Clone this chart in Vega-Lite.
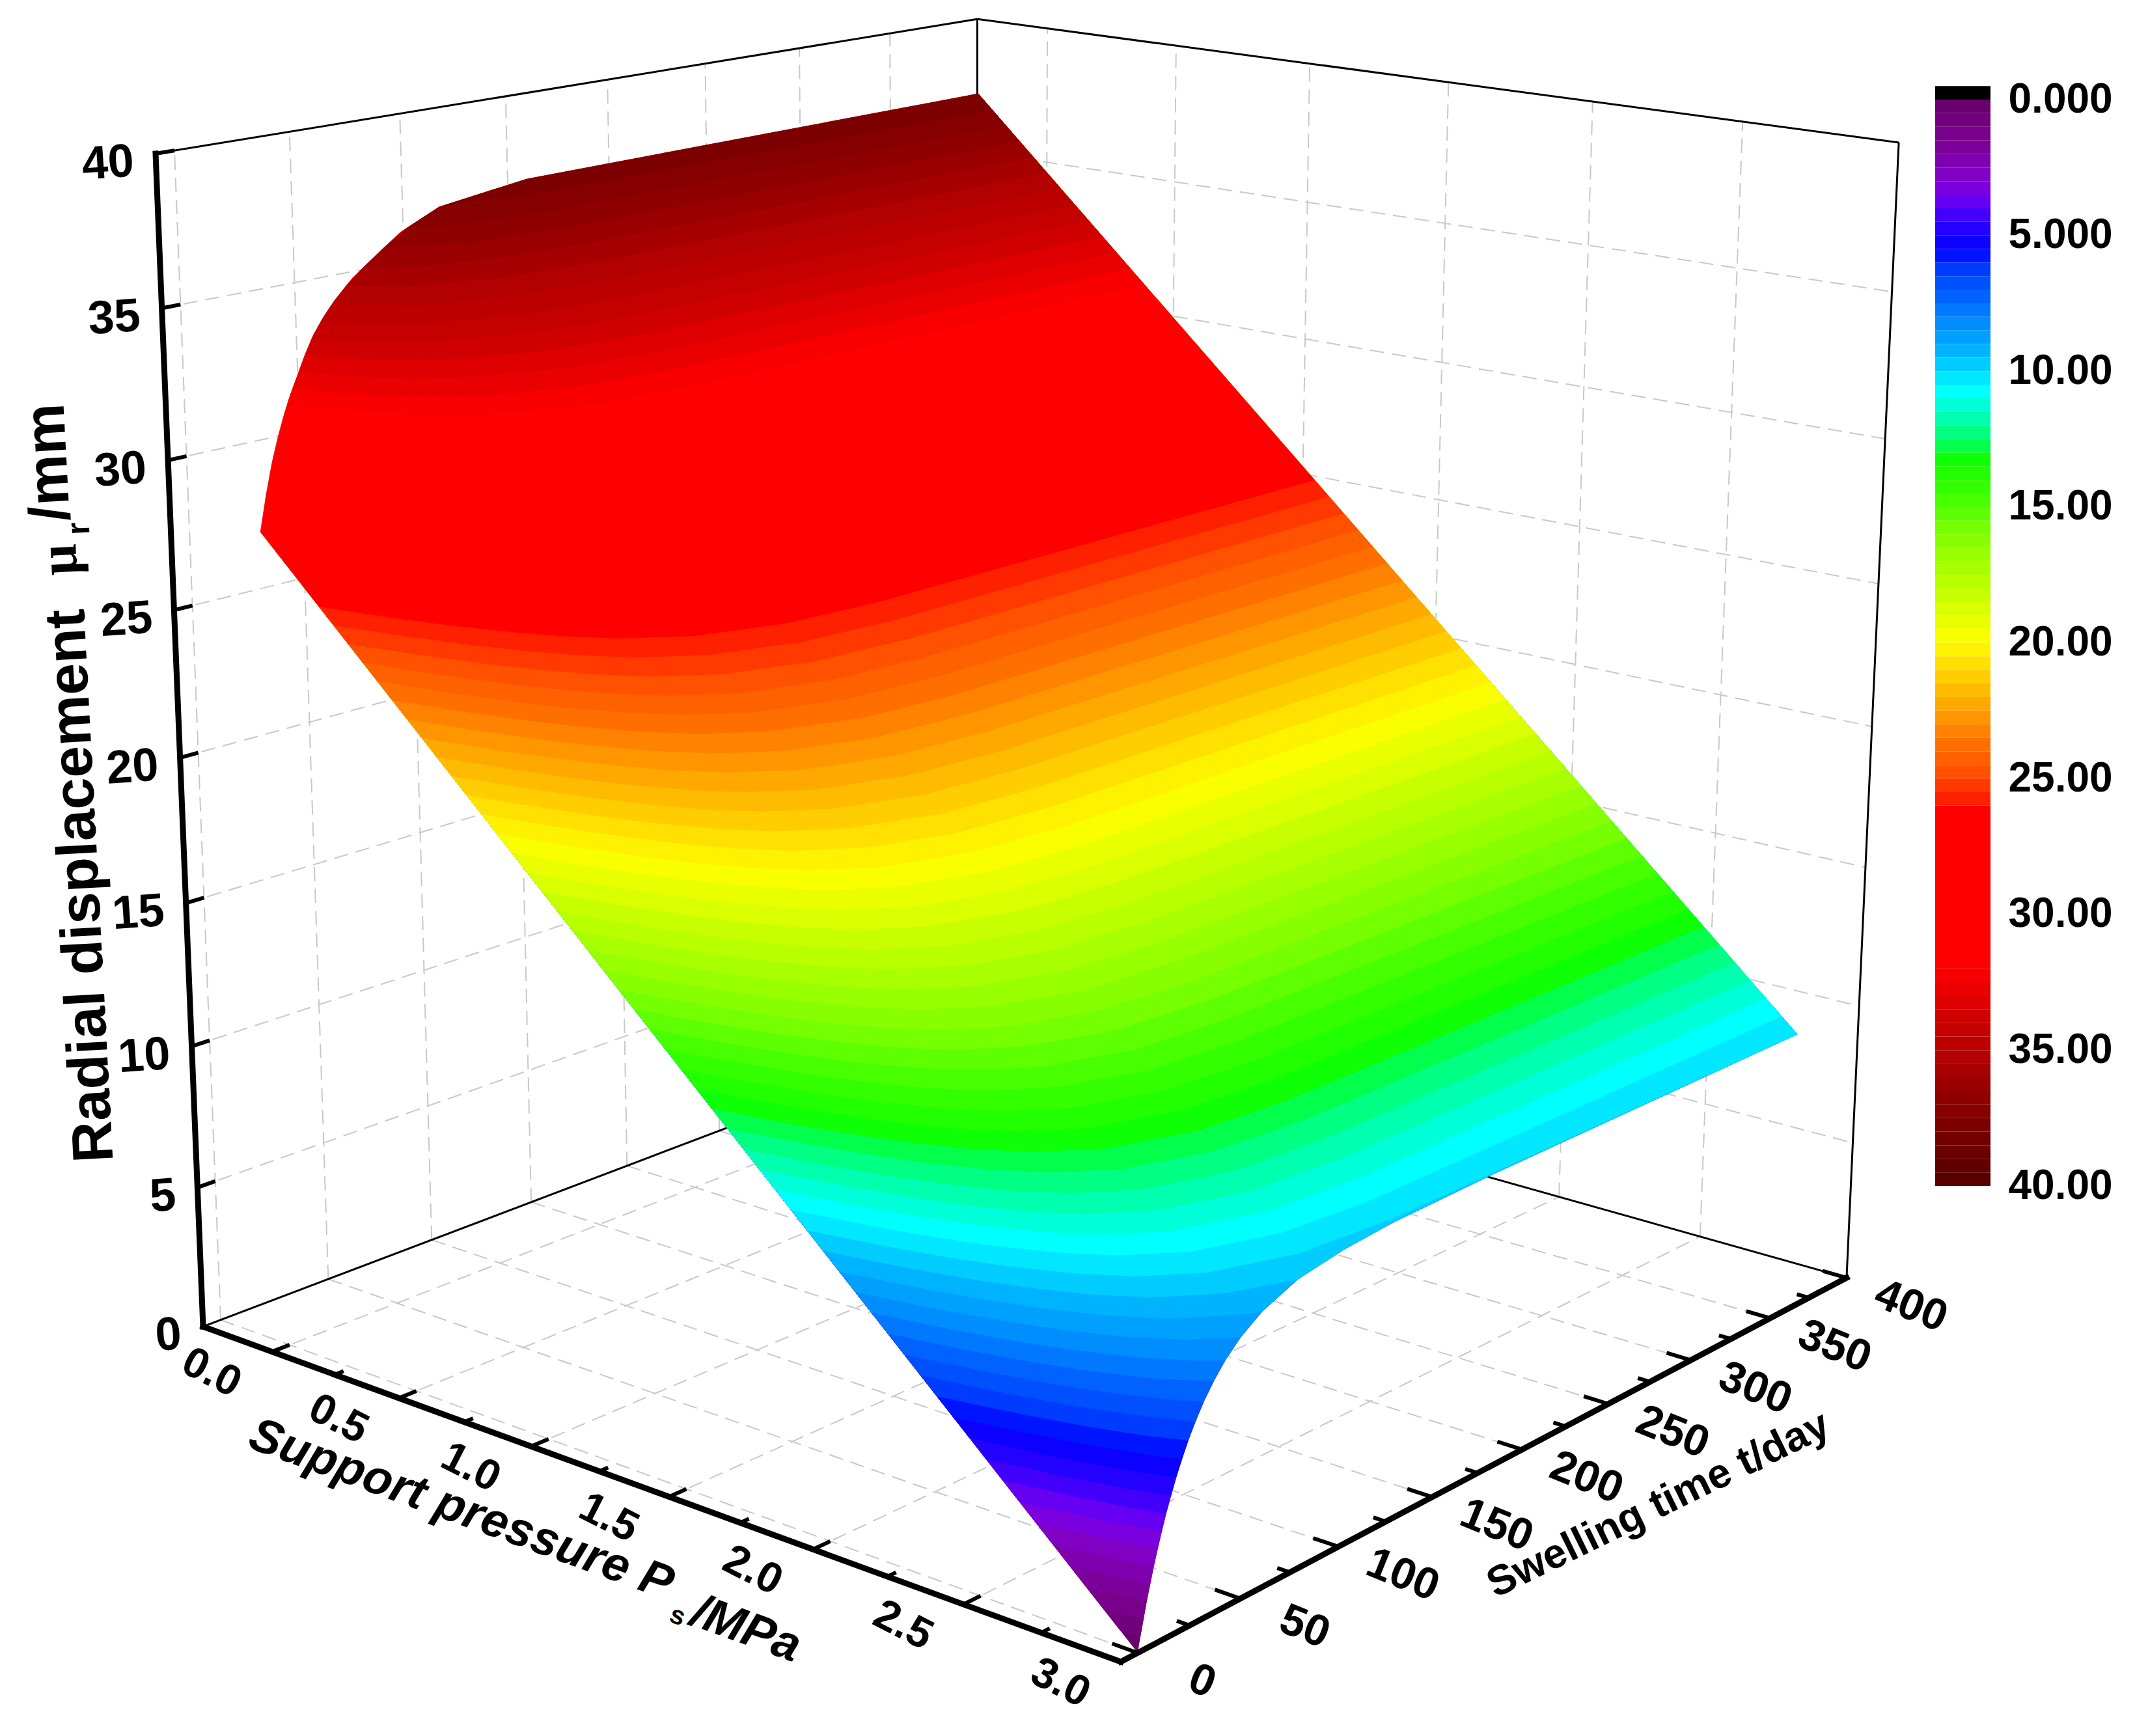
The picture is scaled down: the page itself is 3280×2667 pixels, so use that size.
{"$schema":"https://vega.github.io/schema/vega-lite/v6.json","width":3280,"height":2667,"padding":0,"autosize":{"type":"none"},"background":"white","config":{"view":{"stroke":null}},"resolve":{"scale":{"x":"independent","y":"independent"}},"layer":[{"data":{"values":[
{"g":"g","p":0,"t":-8,"u":0,"p2":0,"t2":400,"u2":0},{"g":"g","p":0.5,"t":-8,"u":0,"p2":0.5,"t2":400,"u2":0},{"g":"g","p":1,"t":-8,"u":0,"p2":1,"t2":400,"u2":0},{"g":"g","p":1.5,"t":-8,"u":0,"p2":1.5,"t2":400,"u2":0},{"g":"g","p":2,"t":-8,"u":0,"p2":2,"t2":400,"u2":0},{"g":"g","p":2.5,"t":-8,"u":0,"p2":2.5,"t2":400,"u2":0},
{"g":"g","p":-0.28,"t":0,"u":0,"p2":3,"t2":0,"u2":0},{"g":"g","p":-0.28,"t":50,"u":0,"p2":3,"t2":50,"u2":0},{"g":"g","p":-0.28,"t":100,"u":0,"p2":3,"t2":100,"u2":0},{"g":"g","p":-0.28,"t":150,"u":0,"p2":3,"t2":150,"u2":0},{"g":"g","p":-0.28,"t":200,"u":0,"p2":3,"t2":200,"u2":0},{"g":"g","p":-0.28,"t":250,"u":0,"p2":3,"t2":250,"u2":0},{"g":"g","p":-0.28,"t":300,"u":0,"p2":3,"t2":300,"u2":0},{"g":"g","p":-0.28,"t":350,"u":0,"p2":3,"t2":350,"u2":0},
{"g":"g","p":-0.28,"t":0,"u":0,"p2":-0.28,"t2":0,"u2":40},{"g":"g","p":-0.28,"t":50,"u":0,"p2":-0.28,"t2":50,"u2":40},{"g":"g","p":-0.28,"t":100,"u":0,"p2":-0.28,"t2":100,"u2":40},{"g":"g","p":-0.28,"t":150,"u":0,"p2":-0.28,"t2":150,"u2":40},{"g":"g","p":-0.28,"t":200,"u":0,"p2":-0.28,"t2":200,"u2":40},{"g":"g","p":-0.28,"t":250,"u":0,"p2":-0.28,"t2":250,"u2":40},{"g":"g","p":-0.28,"t":300,"u":0,"p2":-0.28,"t2":300,"u2":40},{"g":"g","p":-0.28,"t":350,"u":0,"p2":-0.28,"t2":350,"u2":40},
{"g":"g","p":-0.28,"t":-8,"u":5,"p2":-0.28,"t2":400,"u2":5},{"g":"g","p":-0.28,"t":-8,"u":10,"p2":-0.28,"t2":400,"u2":10},{"g":"g","p":-0.28,"t":-8,"u":15,"p2":-0.28,"t2":400,"u2":15},{"g":"g","p":-0.28,"t":-8,"u":20,"p2":-0.28,"t2":400,"u2":20},{"g":"g","p":-0.28,"t":-8,"u":25,"p2":-0.28,"t2":400,"u2":25},{"g":"g","p":-0.28,"t":-8,"u":30,"p2":-0.28,"t2":400,"u2":30},{"g":"g","p":-0.28,"t":-8,"u":35,"p2":-0.28,"t2":400,"u2":35},
{"g":"g","p":0,"t":400,"u":0,"p2":0,"t2":400,"u2":40},{"g":"g","p":0.5,"t":400,"u":0,"p2":0.5,"t2":400,"u2":40},{"g":"g","p":1,"t":400,"u":0,"p2":1,"t2":400,"u2":40},{"g":"g","p":1.5,"t":400,"u":0,"p2":1.5,"t2":400,"u2":40},{"g":"g","p":2,"t":400,"u":0,"p2":2,"t2":400,"u2":40},{"g":"g","p":2.5,"t":400,"u":0,"p2":2.5,"t2":400,"u2":40},
{"g":"g","p":-0.28,"t":400,"u":5,"p2":3,"t2":400,"u2":5},{"g":"g","p":-0.28,"t":400,"u":10,"p2":3,"t2":400,"u2":10},{"g":"g","p":-0.28,"t":400,"u":15,"p2":3,"t2":400,"u2":15},{"g":"g","p":-0.28,"t":400,"u":20,"p2":3,"t2":400,"u2":20},{"g":"g","p":-0.28,"t":400,"u":25,"p2":3,"t2":400,"u2":25},{"g":"g","p":-0.28,"t":400,"u":30,"p2":3,"t2":400,"u2":30},{"g":"g","p":-0.28,"t":400,"u":35,"p2":3,"t2":400,"u2":35},
{"g":"f","p":-0.28,"t":-8,"u":40,"p2":-0.28,"t2":400,"u2":40},{"g":"f","p":-0.28,"t":400,"u":40,"p2":3,"t2":400,"u2":40},{"g":"f","p":-0.28,"t":400,"u":0,"p2":-0.28,"t2":400,"u2":40},{"g":"f","p":3,"t":400,"u":0,"p2":3,"t2":400,"u2":40},{"g":"f","p":-0.28,"t":-8,"u":0,"p2":-0.28,"t2":400,"u2":0},{"g":"f","p":-0.28,"t":400,"u":0,"p2":3,"t2":400,"u2":0},
{"g":"a","p":-0.28,"t":-8,"u":0,"p2":3,"t2":-8,"u2":0},{"g":"a","p":3,"t":-8,"u":0,"p2":3,"t2":400,"u2":0},{"g":"a","p":-0.28,"t":-8,"u":0,"p2":-0.28,"t2":-8,"u2":40},
{"g":"k","p":0,"t":-8,"u":0,"p2":0,"t2":0,"u2":0},{"g":"k","p":0.5,"t":-8,"u":0,"p2":0.5,"t2":0,"u2":0},{"g":"k","p":1,"t":-8,"u":0,"p2":1,"t2":0,"u2":0},{"g":"k","p":1.5,"t":-8,"u":0,"p2":1.5,"t2":0,"u2":0},{"g":"k","p":2,"t":-8,"u":0,"p2":2,"t2":0,"u2":0},{"g":"k","p":2.5,"t":-8,"u":0,"p2":2.5,"t2":0,"u2":0},{"g":"k","p":3,"t":-8,"u":0,"p2":3,"t2":0,"u2":0},
{"g":"k","p":0.25,"t":-8,"u":0,"p2":0.25,"t2":-4,"u2":0},{"g":"k","p":0.75,"t":-8,"u":0,"p2":0.75,"t2":-4,"u2":0},{"g":"k","p":1.25,"t":-8,"u":0,"p2":1.25,"t2":-4,"u2":0},{"g":"k","p":1.75,"t":-8,"u":0,"p2":1.75,"t2":-4,"u2":0},{"g":"k","p":2.25,"t":-8,"u":0,"p2":2.25,"t2":-4,"u2":0},{"g":"k","p":2.75,"t":-8,"u":0,"p2":2.75,"t2":-4,"u2":0},
{"g":"k","p":3,"t":0,"u":0,"p2":2.92,"t2":0,"u2":0},{"g":"k","p":3,"t":50,"u":0,"p2":2.92,"t2":50,"u2":0},{"g":"k","p":3,"t":100,"u":0,"p2":2.92,"t2":100,"u2":0},{"g":"k","p":3,"t":150,"u":0,"p2":2.92,"t2":150,"u2":0},{"g":"k","p":3,"t":200,"u":0,"p2":2.92,"t2":200,"u2":0},{"g":"k","p":3,"t":250,"u":0,"p2":2.92,"t2":250,"u2":0},{"g":"k","p":3,"t":300,"u":0,"p2":2.92,"t2":300,"u2":0},{"g":"k","p":3,"t":350,"u":0,"p2":2.92,"t2":350,"u2":0},{"g":"k","p":3,"t":400,"u":0,"p2":2.92,"t2":400,"u2":0},
{"g":"k","p":3,"t":25,"u":0,"p2":2.96,"t2":25,"u2":0},{"g":"k","p":3,"t":75,"u":0,"p2":2.96,"t2":75,"u2":0},{"g":"k","p":3,"t":125,"u":0,"p2":2.96,"t2":125,"u2":0},{"g":"k","p":3,"t":175,"u":0,"p2":2.96,"t2":175,"u2":0},{"g":"k","p":3,"t":225,"u":0,"p2":2.96,"t2":225,"u2":0},{"g":"k","p":3,"t":275,"u":0,"p2":2.96,"t2":275,"u2":0},{"g":"k","p":3,"t":325,"u":0,"p2":2.96,"t2":325,"u2":0},{"g":"k","p":3,"t":375,"u":0,"p2":2.96,"t2":375,"u2":0},
{"g":"k","p":-0.28,"t":-8,"u":5,"p2":-0.28,"t2":0,"u2":5},{"g":"k","p":-0.28,"t":-8,"u":10,"p2":-0.28,"t2":0,"u2":10},{"g":"k","p":-0.28,"t":-8,"u":15,"p2":-0.28,"t2":0,"u2":15},{"g":"k","p":-0.28,"t":-8,"u":20,"p2":-0.28,"t2":0,"u2":20},{"g":"k","p":-0.28,"t":-8,"u":25,"p2":-0.28,"t2":0,"u2":25},{"g":"k","p":-0.28,"t":-8,"u":30,"p2":-0.28,"t2":0,"u2":30},{"g":"k","p":-0.28,"t":-8,"u":35,"p2":-0.28,"t2":0,"u2":35},{"g":"k","p":-0.28,"t":-8,"u":40,"p2":-0.28,"t2":0,"u2":40},
{"g":"ul","s":"0","p":-0.28,"t":-8,"u":0},{"g":"ul","s":"5","p":-0.28,"t":-8,"u":5},{"g":"ul","s":"10","p":-0.28,"t":-8,"u":10},{"g":"ul","s":"15","p":-0.28,"t":-8,"u":15},{"g":"ul","s":"20","p":-0.28,"t":-8,"u":20},{"g":"ul","s":"25","p":-0.28,"t":-8,"u":25},{"g":"ul","s":"30","p":-0.28,"t":-8,"u":30},{"g":"ul","s":"35","p":-0.28,"t":-8,"u":35},{"g":"ul","s":"40","p":-0.28,"t":-8,"u":40},
{"g":"pl","s":"0.0","p":0,"t":-8,"u":0},{"g":"pl","s":"0.5","p":0.5,"t":-8,"u":0},{"g":"pl","s":"1.0","p":1,"t":-8,"u":0},{"g":"pl","s":"1.5","p":1.5,"t":-8,"u":0},{"g":"pl","s":"2.0","p":2,"t":-8,"u":0},{"g":"pl","s":"2.5","p":2.5,"t":-8,"u":0},{"g":"pl","s":"3.0","p":3,"t":-8,"u":0},
{"g":"tl","s":"0","p":3,"t":0,"u":0},{"g":"tl","s":"50","p":3,"t":50,"u":0},{"g":"tl","s":"100","p":3,"t":100,"u":0},{"g":"tl","s":"150","p":3,"t":150,"u":0},{"g":"tl","s":"200","p":3,"t":200,"u":0},{"g":"tl","s":"250","p":3,"t":250,"u":0},{"g":"tl","s":"300","p":3,"t":300,"u":0},{"g":"tl","s":"350","p":3,"t":350,"u":0},{"g":"tl","s":"400","p":3,"t":400,"u":0},
{"g":"t1","s":"Support pressure P","p":1.153,"t":-58,"u":0},{"g":"t2","s":"s","p":2.011,"t":-70.5,"u":0},{"g":"t1","s":"/MPa","p":2.19,"t":-64,"u":0},{"g":"t3","s":"Swelling time t/day","p":3.475,"t":192,"u":0},
{"g":"y1","s":"Radial displacement","p":-0.28,"t":-52.3,"u":16.63},{"g":"y1","s":"/mm","p":-0.28,"t":-57.4,"u":30.76},{"g":"y2","s":"μ","p":-0.28,"t":-55,"u":27.55},{"g":"y3","s":"r","p":-0.28,"t":-46.4,"u":28.42},
{"l":0.25,"p":3,"t":0,"u":0},{"l":0.25,"p":3,"t":1.3,"u":0.5},{"l":0.25,"p":3,"t":2.7,"u":1},{"l":0.25,"p":3,"t":4.1,"u":1.5},{"l":0.25,"p":3,"t":5.7,"u":2},{"l":0.25,"p":3,"t":7.3,"u":2.5},{"l":0.25,"p":3,"t":9.1,"u":3},{"l":0.25,"p":3,"t":11,"u":3.5},{"l":0.25,"p":3,"t":13,"u":4},{"l":0.25,"p":3,"t":15.3,"u":4.5},{"l":0.25,"p":3,"t":17.7,"u":5},{"l":0.25,"p":3,"t":20.4,"u":5.5},{"l":0.25,"p":3,"t":23.4,"u":6},{"l":0.25,"p":3,"t":26.8,"u":6.5},{"l":0.25,"p":3,"t":30.7,"u":7},{"l":0.25,"p":3,"t":35.4,"u":7.5},{"l":0.25,"p":3,"t":41,"u":8},{"l":0.25,"p":3,"t":48.4,"u":8.5},{"l":0.25,"p":3,"t":58.8,"u":9},{"l":0.25,"p":3,"t":76.4,"u":9.5},{"l":0.25,"p":3,"t":100,"u":9.78},{"l":0.25,"p":3,"t":125,"u":9.92},{"l":0.25,"p":3,"t":180,"u":10},{"l":0.25,"p":3,"t":360,"u":10},{"l":0.25,"p":0,"t":360,"u":38.04},{"l":0.25,"p":0,"t":0,"u":28.04},
{"l":0.75,"p":3,"t":2.7,"u":1},{"l":0.75,"p":3,"t":1.3},{"l":0.75,"p":2.946,"t":0},{"l":0.75,"p":0,"t":0,"u":28.04},{"l":0.75,"p":0,"t":360,"u":38.04},
{"l":1.25,"p":3,"t":4.1,"u":1.5},{"l":1.25,"p":3,"t":2.7},{"l":1.25,"p":2.893,"t":0},{"l":1.25,"p":0,"t":0,"u":28.04},{"l":1.25,"p":0,"t":360,"u":38.04},
{"l":1.75,"p":3,"t":5.7,"u":2},{"l":1.75,"p":3,"t":4.1},{"l":1.75,"p":2.839,"t":0},{"l":1.75,"p":0,"t":0,"u":28.04},{"l":1.75,"p":0,"t":360,"u":38.04},
{"l":2.25,"p":3,"t":7.3,"u":2.5},{"l":2.25,"p":3,"t":5.7},{"l":2.25,"p":2.786,"t":0},{"l":2.25,"p":0,"t":0,"u":28.04},{"l":2.25,"p":0,"t":360,"u":38.04},
{"l":2.75,"p":3,"t":9.1,"u":3},{"l":2.75,"p":3,"t":7.3},{"l":2.75,"p":2.96,"t":6},{"l":2.75,"p":2.732,"t":0},{"l":2.75,"p":0,"t":0,"u":28.04},{"l":2.75,"p":0,"t":360,"u":38.04},
{"l":3.25,"p":3,"t":11,"u":3.5},{"l":3.25,"p":3,"t":9.1},{"l":3.25,"p":2.907,"t":6},{"l":3.25,"p":2.679,"t":0},{"l":3.25,"p":0,"t":0,"u":28.04},{"l":3.25,"p":0,"t":360,"u":38.04},
{"l":3.75,"p":3,"t":13,"u":4},{"l":3.75,"p":3,"t":11},{"l":3.75,"p":2.853,"t":6},{"l":3.75,"p":2.625,"t":0},{"l":3.75,"p":0,"t":0,"u":28.04},{"l":3.75,"p":0,"t":360,"u":38.04},
{"l":4.25,"p":3,"t":15.3,"u":4.5},{"l":4.25,"p":3,"t":13},{"l":4.25,"p":2.98,"t":12},{"l":4.25,"p":2.8,"t":6},{"l":4.25,"p":2.572,"t":0},{"l":4.25,"p":0,"t":0,"u":28.04},{"l":4.25,"p":0,"t":360,"u":38.04},
{"l":4.75,"p":3,"t":17.7,"u":5},{"l":4.75,"p":3,"t":15.3},{"l":4.75,"p":2.926,"t":12},{"l":4.75,"p":2.746,"t":6},{"l":4.75,"p":2.518,"t":0},{"l":4.75,"p":0,"t":0,"u":28.04},{"l":4.75,"p":0,"t":360,"u":38.04},
{"l":5.25,"p":3,"t":20.4,"u":5.5},{"l":5.25,"p":3,"t":17.7},{"l":5.25,"p":2.873,"t":12},{"l":5.25,"p":2.693,"t":6},{"l":5.25,"p":2.465,"t":0},{"l":5.25,"p":0,"t":0,"u":28.04},{"l":5.25,"p":0,"t":360,"u":38.04},
{"l":5.75,"p":3,"t":23.4,"u":6},{"l":5.75,"p":3,"t":20.4},{"l":5.75,"p":2.96,"t":18},{"l":5.75,"p":2.819,"t":12},{"l":5.75,"p":2.639,"t":6},{"l":5.75,"p":2.411,"t":0},{"l":5.75,"p":0,"t":0,"u":28.04},{"l":5.75,"p":0,"t":360,"u":38.04},
{"l":6.25,"p":3,"t":26.8,"u":6.5},{"l":6.25,"p":3,"t":23.4},{"l":6.25,"p":2.907,"t":18},{"l":6.25,"p":2.766,"t":12},{"l":6.25,"p":2.586,"t":6},{"l":6.25,"p":2.358,"t":0},{"l":6.25,"p":0,"t":0,"u":28.04},{"l":6.25,"p":0,"t":360,"u":38.04},
{"l":6.75,"p":3,"t":30.7,"u":7},{"l":6.75,"p":3,"t":26.8},{"l":6.75,"p":2.996,"t":26},{"l":6.75,"p":2.853,"t":18},{"l":6.75,"p":2.712,"t":12},{"l":6.75,"p":2.532,"t":6},{"l":6.75,"p":2.304,"t":0},{"l":6.75,"p":0,"t":0,"u":28.04},{"l":6.75,"p":0,"t":360,"u":38.04},
{"l":7.25,"p":3,"t":35.4,"u":7.5},{"l":7.25,"p":3,"t":30.7},{"l":7.25,"p":2.943,"t":26},{"l":7.25,"p":2.8,"t":18},{"l":7.25,"p":2.659,"t":12},{"l":7.25,"p":2.479,"t":6},{"l":7.25,"p":2.251,"t":0},{"l":7.25,"p":0,"t":0,"u":28.04},{"l":7.25,"p":0,"t":360,"u":38.04},
{"l":7.75,"p":3,"t":41,"u":8},{"l":7.75,"p":3,"t":35.4},{"l":7.75,"p":2.889,"t":26},{"l":7.75,"p":2.746,"t":18},{"l":7.75,"p":2.605,"t":12},{"l":7.75,"p":2.425,"t":6},{"l":7.75,"p":2.197,"t":0},{"l":7.75,"p":0,"t":0,"u":28.04},{"l":7.75,"p":0,"t":360,"u":38.04},
{"l":8.25,"p":3,"t":48.4,"u":8.5},{"l":8.25,"p":3,"t":41},{"l":8.25,"p":2.96,"t":36},{"l":8.25,"p":2.836,"t":26},{"l":8.25,"p":2.693,"t":18},{"l":8.25,"p":2.552,"t":12},{"l":8.25,"p":2.372,"t":6},{"l":8.25,"p":2.144,"t":0},{"l":8.25,"p":0,"t":0,"u":28.04},{"l":8.25,"p":0,"t":360,"u":38.04},
{"l":8.75,"p":3,"t":58.8,"u":9},{"l":8.75,"p":3,"t":48.4},{"l":8.75,"p":2.906,"t":36},{"l":8.75,"p":2.782,"t":26},{"l":8.75,"p":2.639,"t":18},{"l":8.75,"p":2.498,"t":12},{"l":8.75,"p":2.318,"t":6},{"l":8.75,"p":2.09,"t":0},{"l":8.75,"p":0,"t":0,"u":28.04},{"l":8.75,"p":0,"t":360,"u":38.04},
{"l":9.25,"p":3,"t":76.4,"u":9.5},{"l":9.25,"p":3,"t":58.8},{"l":9.25,"p":2.973,"t":53},{"l":9.25,"p":2.853,"t":36},{"l":9.25,"p":2.729,"t":26},{"l":9.25,"p":2.586,"t":18},{"l":9.25,"p":2.445,"t":12},{"l":9.25,"p":2.265,"t":6},{"l":9.25,"p":2.037,"t":0},{"l":9.25,"p":0,"t":0,"u":28.04},{"l":9.25,"p":0,"t":360,"u":38.04},
{"l":9.75,"p":3,"t":360,"u":10},{"l":9.75,"p":3,"t":180,"u":10},{"l":9.75,"p":3,"t":125,"u":9.92},{"l":9.75,"p":3,"t":100,"u":9.78},{"l":9.75,"p":3,"t":76.4},{"l":9.75,"p":2.919,"t":53},{"l":9.75,"p":2.799,"t":36},{"l":9.75,"p":2.675,"t":26},{"l":9.75,"p":2.532,"t":18},{"l":9.75,"p":2.391,"t":12},{"l":9.75,"p":2.211,"t":6},{"l":9.75,"p":1.983,"t":0},{"l":9.75,"p":0,"t":0,"u":28.04},{"l":9.75,"p":0,"t":360,"u":38.04},
{"l":10.25,"p":3,"t":360},{"l":10.25,"p":2.991,"t":125},{"l":10.25,"p":2.959,"t":84},{"l":10.25,"p":2.866,"t":53},{"l":10.25,"p":2.746,"t":36},{"l":10.25,"p":2.622,"t":26},{"l":10.25,"p":2.479,"t":18},{"l":10.25,"p":2.338,"t":12},{"l":10.25,"p":2.158,"t":6},{"l":10.25,"p":1.93,"t":0},{"l":10.25,"p":0,"t":0,"u":28.04},{"l":10.25,"p":0,"t":360,"u":38.04},
{"l":10.75,"p":2.946,"t":360},{"l":10.75,"p":2.937,"t":125},{"l":10.75,"p":2.905,"t":84},{"l":10.75,"p":2.812,"t":53},{"l":10.75,"p":2.692,"t":36},{"l":10.75,"p":2.568,"t":26},{"l":10.75,"p":2.425,"t":18},{"l":10.75,"p":2.284,"t":12},{"l":10.75,"p":2.104,"t":6},{"l":10.75,"p":1.876,"t":0},{"l":10.75,"p":0,"t":0,"u":28.04},{"l":10.75,"p":0,"t":360,"u":38.04},
{"l":11.25,"p":2.893,"t":360},{"l":11.25,"p":2.884,"t":125},{"l":11.25,"p":2.852,"t":84},{"l":11.25,"p":2.759,"t":53},{"l":11.25,"p":2.639,"t":36},{"l":11.25,"p":2.515,"t":26},{"l":11.25,"p":2.372,"t":18},{"l":11.25,"p":2.231,"t":12},{"l":11.25,"p":2.051,"t":6},{"l":11.25,"p":1.823,"t":0},{"l":11.25,"p":0,"t":0,"u":28.04},{"l":11.25,"p":0,"t":360,"u":38.04},
{"l":11.75,"p":2.839,"t":360},{"l":11.75,"p":2.83,"t":125},{"l":11.75,"p":2.798,"t":84},{"l":11.75,"p":2.705,"t":53},{"l":11.75,"p":2.585,"t":36},{"l":11.75,"p":2.461,"t":26},{"l":11.75,"p":2.318,"t":18},{"l":11.75,"p":2.177,"t":12},{"l":11.75,"p":1.997,"t":6},{"l":11.75,"p":1.769,"t":0},{"l":11.75,"p":0,"t":0,"u":28.04},{"l":11.75,"p":0,"t":360,"u":38.04},
{"l":12.25,"p":2.786,"t":360},{"l":12.25,"p":2.777,"t":125},{"l":12.25,"p":2.745,"t":84},{"l":12.25,"p":2.652,"t":53},{"l":12.25,"p":2.532,"t":36},{"l":12.25,"p":2.408,"t":26},{"l":12.25,"p":2.265,"t":18},{"l":12.25,"p":2.124,"t":12},{"l":12.25,"p":1.944,"t":6},{"l":12.25,"p":1.716,"t":0},{"l":12.25,"p":0,"t":0,"u":28.04},{"l":12.25,"p":0,"t":360,"u":38.04},
{"l":12.75,"p":2.732,"t":360},{"l":12.75,"p":2.723,"t":125},{"l":12.75,"p":2.691,"t":84},{"l":12.75,"p":2.598,"t":53},{"l":12.75,"p":2.478,"t":36},{"l":12.75,"p":2.354,"t":26},{"l":12.75,"p":2.211,"t":18},{"l":12.75,"p":2.07,"t":12},{"l":12.75,"p":1.89,"t":6},{"l":12.75,"p":1.662,"t":0},{"l":12.75,"p":0,"t":0,"u":28.04},{"l":12.75,"p":0,"t":360,"u":38.04},
{"l":13.25,"p":2.679,"t":360},{"l":13.25,"p":2.67,"t":125},{"l":13.25,"p":2.638,"t":84},{"l":13.25,"p":2.545,"t":53},{"l":13.25,"p":2.425,"t":36},{"l":13.25,"p":2.301,"t":26},{"l":13.25,"p":2.158,"t":18},{"l":13.25,"p":2.017,"t":12},{"l":13.25,"p":1.837,"t":6},{"l":13.25,"p":1.609,"t":0},{"l":13.25,"p":0,"t":0,"u":28.04},{"l":13.25,"p":0,"t":360,"u":38.04},
{"l":13.75,"p":2.625,"t":360},{"l":13.75,"p":2.616,"t":125},{"l":13.75,"p":2.584,"t":84},{"l":13.75,"p":2.491,"t":53},{"l":13.75,"p":2.371,"t":36},{"l":13.75,"p":2.247,"t":26},{"l":13.75,"p":2.104,"t":18},{"l":13.75,"p":1.963,"t":12},{"l":13.75,"p":1.783,"t":6},{"l":13.75,"p":1.555,"t":0},{"l":13.75,"p":0,"t":0,"u":28.04},{"l":13.75,"p":0,"t":360,"u":38.04},
{"l":14.25,"p":2.572,"t":360},{"l":14.25,"p":2.563,"t":125},{"l":14.25,"p":2.531,"t":84},{"l":14.25,"p":2.438,"t":53},{"l":14.25,"p":2.318,"t":36},{"l":14.25,"p":2.194,"t":26},{"l":14.25,"p":2.051,"t":18},{"l":14.25,"p":1.91,"t":12},{"l":14.25,"p":1.73,"t":6},{"l":14.25,"p":1.502,"t":0},{"l":14.25,"p":0,"t":0,"u":28.04},{"l":14.25,"p":0,"t":360,"u":38.04},
{"l":14.75,"p":2.518,"t":360},{"l":14.75,"p":2.509,"t":125},{"l":14.75,"p":2.477,"t":84},{"l":14.75,"p":2.384,"t":53},{"l":14.75,"p":2.264,"t":36},{"l":14.75,"p":2.14,"t":26},{"l":14.75,"p":1.997,"t":18},{"l":14.75,"p":1.856,"t":12},{"l":14.75,"p":1.676,"t":6},{"l":14.75,"p":1.448,"t":0},{"l":14.75,"p":0,"t":0,"u":28.04},{"l":14.75,"p":0,"t":360,"u":38.04},
{"l":15.25,"p":2.465,"t":360},{"l":15.25,"p":2.456,"t":125},{"l":15.25,"p":2.424,"t":84},{"l":15.25,"p":2.331,"t":53},{"l":15.25,"p":2.211,"t":36},{"l":15.25,"p":2.087,"t":26},{"l":15.25,"p":1.944,"t":18},{"l":15.25,"p":1.803,"t":12},{"l":15.25,"p":1.623,"t":6},{"l":15.25,"p":1.395,"t":0},{"l":15.25,"p":0,"t":0,"u":28.04},{"l":15.25,"p":0,"t":360,"u":38.04},
{"l":15.75,"p":2.411,"t":360},{"l":15.75,"p":2.402,"t":125},{"l":15.75,"p":2.37,"t":84},{"l":15.75,"p":2.277,"t":53},{"l":15.75,"p":2.157,"t":36},{"l":15.75,"p":2.033,"t":26},{"l":15.75,"p":1.89,"t":18},{"l":15.75,"p":1.749,"t":12},{"l":15.75,"p":1.569,"t":6},{"l":15.75,"p":1.341,"t":0},{"l":15.75,"p":0,"t":0,"u":28.04},{"l":15.75,"p":0,"t":360,"u":38.04},
{"l":16.25,"p":2.358,"t":360},{"l":16.25,"p":2.349,"t":125},{"l":16.25,"p":2.317,"t":84},{"l":16.25,"p":2.224,"t":53},{"l":16.25,"p":2.104,"t":36},{"l":16.25,"p":1.98,"t":26},{"l":16.25,"p":1.837,"t":18},{"l":16.25,"p":1.696,"t":12},{"l":16.25,"p":1.516,"t":6},{"l":16.25,"p":1.288,"t":0},{"l":16.25,"p":0,"t":0,"u":28.04},{"l":16.25,"p":0,"t":360,"u":38.04},
{"l":16.75,"p":2.304,"t":360},{"l":16.75,"p":2.295,"t":125},{"l":16.75,"p":2.263,"t":84},{"l":16.75,"p":2.17,"t":53},{"l":16.75,"p":2.05,"t":36},{"l":16.75,"p":1.926,"t":26},{"l":16.75,"p":1.783,"t":18},{"l":16.75,"p":1.642,"t":12},{"l":16.75,"p":1.462,"t":6},{"l":16.75,"p":1.234,"t":0},{"l":16.75,"p":0,"t":0,"u":28.04},{"l":16.75,"p":0,"t":360,"u":38.04},
{"l":17.25,"p":2.251,"t":360},{"l":17.25,"p":2.242,"t":125},{"l":17.25,"p":2.21,"t":84},{"l":17.25,"p":2.117,"t":53},{"l":17.25,"p":1.997,"t":36},{"l":17.25,"p":1.873,"t":26},{"l":17.25,"p":1.73,"t":18},{"l":17.25,"p":1.589,"t":12},{"l":17.25,"p":1.409,"t":6},{"l":17.25,"p":1.181,"t":0},{"l":17.25,"p":0,"t":0,"u":28.04},{"l":17.25,"p":0,"t":360,"u":38.04},
{"l":17.75,"p":2.197,"t":360},{"l":17.75,"p":2.188,"t":125},{"l":17.75,"p":2.156,"t":84},{"l":17.75,"p":2.063,"t":53},{"l":17.75,"p":1.943,"t":36},{"l":17.75,"p":1.819,"t":26},{"l":17.75,"p":1.676,"t":18},{"l":17.75,"p":1.535,"t":12},{"l":17.75,"p":1.355,"t":6},{"l":17.75,"p":1.127,"t":0},{"l":17.75,"p":0,"t":0,"u":28.04},{"l":17.75,"p":0,"t":360,"u":38.04},
{"l":18.25,"p":2.144,"t":360},{"l":18.25,"p":2.135,"t":125},{"l":18.25,"p":2.103,"t":84},{"l":18.25,"p":2.01,"t":53},{"l":18.25,"p":1.89,"t":36},{"l":18.25,"p":1.766,"t":26},{"l":18.25,"p":1.623,"t":18},{"l":18.25,"p":1.482,"t":12},{"l":18.25,"p":1.302,"t":6},{"l":18.25,"p":1.074,"t":0},{"l":18.25,"p":0,"t":0,"u":28.04},{"l":18.25,"p":0,"t":360,"u":38.04},
{"l":18.75,"p":2.09,"t":360},{"l":18.75,"p":2.081,"t":125},{"l":18.75,"p":2.049,"t":84},{"l":18.75,"p":1.956,"t":53},{"l":18.75,"p":1.836,"t":36},{"l":18.75,"p":1.712,"t":26},{"l":18.75,"p":1.569,"t":18},{"l":18.75,"p":1.428,"t":12},{"l":18.75,"p":1.248,"t":6},{"l":18.75,"p":1.02,"t":0},{"l":18.75,"p":0,"t":0,"u":28.04},{"l":18.75,"p":0,"t":360,"u":38.04},
{"l":19.25,"p":2.037,"t":360},{"l":19.25,"p":2.028,"t":125},{"l":19.25,"p":1.996,"t":84},{"l":19.25,"p":1.903,"t":53},{"l":19.25,"p":1.783,"t":36},{"l":19.25,"p":1.659,"t":26},{"l":19.25,"p":1.516,"t":18},{"l":19.25,"p":1.375,"t":12},{"l":19.25,"p":1.195,"t":6},{"l":19.25,"p":0.967,"t":0},{"l":19.25,"p":0,"t":0,"u":28.04},{"l":19.25,"p":0,"t":360,"u":38.04},
{"l":19.75,"p":1.983,"t":360},{"l":19.75,"p":1.974,"t":125},{"l":19.75,"p":1.942,"t":84},{"l":19.75,"p":1.849,"t":53},{"l":19.75,"p":1.729,"t":36},{"l":19.75,"p":1.605,"t":26},{"l":19.75,"p":1.462,"t":18},{"l":19.75,"p":1.321,"t":12},{"l":19.75,"p":1.141,"t":6},{"l":19.75,"p":0.913,"t":0},{"l":19.75,"p":0,"t":0,"u":28.04},{"l":19.75,"p":0,"t":360,"u":38.04},
{"l":20.25,"p":1.93,"t":360},{"l":20.25,"p":1.921,"t":125},{"l":20.25,"p":1.889,"t":84},{"l":20.25,"p":1.796,"t":53},{"l":20.25,"p":1.676,"t":36},{"l":20.25,"p":1.552,"t":26},{"l":20.25,"p":1.409,"t":18},{"l":20.25,"p":1.268,"t":12},{"l":20.25,"p":1.088,"t":6},{"l":20.25,"p":0.86,"t":0},{"l":20.25,"p":0,"t":0,"u":28.04},{"l":20.25,"p":0,"t":360,"u":38.04},
{"l":20.75,"p":1.876,"t":360},{"l":20.75,"p":1.867,"t":125},{"l":20.75,"p":1.835,"t":84},{"l":20.75,"p":1.742,"t":53},{"l":20.75,"p":1.622,"t":36},{"l":20.75,"p":1.498,"t":26},{"l":20.75,"p":1.355,"t":18},{"l":20.75,"p":1.214,"t":12},{"l":20.75,"p":1.034,"t":6},{"l":20.75,"p":0.806,"t":0},{"l":20.75,"p":0,"t":0,"u":28.04},{"l":20.75,"p":0,"t":360,"u":38.04},
{"l":21.25,"p":1.823,"t":360},{"l":21.25,"p":1.814,"t":125},{"l":21.25,"p":1.782,"t":84},{"l":21.25,"p":1.689,"t":53},{"l":21.25,"p":1.569,"t":36},{"l":21.25,"p":1.445,"t":26},{"l":21.25,"p":1.302,"t":18},{"l":21.25,"p":1.161,"t":12},{"l":21.25,"p":0.981,"t":6},{"l":21.25,"p":0.753,"t":0},{"l":21.25,"p":0,"t":0,"u":28.04},{"l":21.25,"p":0,"t":360,"u":38.04},
{"l":21.75,"p":1.769,"t":360},{"l":21.75,"p":1.76,"t":125},{"l":21.75,"p":1.728,"t":84},{"l":21.75,"p":1.635,"t":53},{"l":21.75,"p":1.515,"t":36},{"l":21.75,"p":1.391,"t":26},{"l":21.75,"p":1.248,"t":18},{"l":21.75,"p":1.107,"t":12},{"l":21.75,"p":0.927,"t":6},{"l":21.75,"p":0.699,"t":0},{"l":21.75,"p":0,"t":0,"u":28.04},{"l":21.75,"p":0,"t":360,"u":38.04},
{"l":22.25,"p":1.716,"t":360},{"l":22.25,"p":1.707,"t":125},{"l":22.25,"p":1.675,"t":84},{"l":22.25,"p":1.582,"t":53},{"l":22.25,"p":1.462,"t":36},{"l":22.25,"p":1.338,"t":26},{"l":22.25,"p":1.195,"t":18},{"l":22.25,"p":1.054,"t":12},{"l":22.25,"p":0.874,"t":6},{"l":22.25,"p":0.646,"t":0},{"l":22.25,"p":0,"t":0,"u":28.04},{"l":22.25,"p":0,"t":360,"u":38.04},
{"l":22.75,"p":1.662,"t":360},{"l":22.75,"p":1.653,"t":125},{"l":22.75,"p":1.621,"t":84},{"l":22.75,"p":1.528,"t":53},{"l":22.75,"p":1.408,"t":36},{"l":22.75,"p":1.284,"t":26},{"l":22.75,"p":1.141,"t":18},{"l":22.75,"p":1,"t":12},{"l":22.75,"p":0.82,"t":6},{"l":22.75,"p":0.592,"t":0},{"l":22.75,"p":0,"t":0,"u":28.04},{"l":22.75,"p":0,"t":360,"u":38.04},
{"l":23.25,"p":1.609,"t":360},{"l":23.25,"p":1.6,"t":125},{"l":23.25,"p":1.568,"t":84},{"l":23.25,"p":1.475,"t":53},{"l":23.25,"p":1.355,"t":36},{"l":23.25,"p":1.231,"t":26},{"l":23.25,"p":1.088,"t":18},{"l":23.25,"p":0.947,"t":12},{"l":23.25,"p":0.767,"t":6},{"l":23.25,"p":0.539,"t":0},{"l":23.25,"p":0,"t":0,"u":28.04},{"l":23.25,"p":0,"t":360,"u":38.04},
{"l":23.75,"p":1.555,"t":360},{"l":23.75,"p":1.546,"t":125},{"l":23.75,"p":1.514,"t":84},{"l":23.75,"p":1.421,"t":53},{"l":23.75,"p":1.301,"t":36},{"l":23.75,"p":1.177,"t":26},{"l":23.75,"p":1.034,"t":18},{"l":23.75,"p":0.893,"t":12},{"l":23.75,"p":0.713,"t":6},{"l":23.75,"p":0.485,"t":0},{"l":23.75,"p":0,"t":0,"u":28.04},{"l":23.75,"p":0,"t":360,"u":38.04},
{"l":24.25,"p":1.502,"t":360},{"l":24.25,"p":1.493,"t":125},{"l":24.25,"p":1.461,"t":84},{"l":24.25,"p":1.368,"t":53},{"l":24.25,"p":1.248,"t":36},{"l":24.25,"p":1.124,"t":26},{"l":24.25,"p":0.981,"t":18},{"l":24.25,"p":0.84,"t":12},{"l":24.25,"p":0.66,"t":6},{"l":24.25,"p":0.432,"t":0},{"l":24.25,"p":0,"t":0,"u":28.04},{"l":24.25,"p":0,"t":360,"u":38.04},
{"l":24.75,"p":1.448,"t":360},{"l":24.75,"p":1.439,"t":125},{"l":24.75,"p":1.407,"t":84},{"l":24.75,"p":1.314,"t":53},{"l":24.75,"p":1.194,"t":36},{"l":24.75,"p":1.07,"t":26},{"l":24.75,"p":0.927,"t":18},{"l":24.75,"p":0.786,"t":12},{"l":24.75,"p":0.606,"t":6},{"l":24.75,"p":0.378,"t":0},{"l":24.75,"p":0,"t":0,"u":28.04},{"l":24.75,"p":0,"t":360,"u":38.04},
{"l":25.25,"p":1.395,"t":360},{"l":25.25,"p":1.386,"t":125},{"l":25.25,"p":1.354,"t":84},{"l":25.25,"p":1.261,"t":53},{"l":25.25,"p":1.141,"t":36},{"l":25.25,"p":1.017,"t":26},{"l":25.25,"p":0.874,"t":18},{"l":25.25,"p":0.733,"t":12},{"l":25.25,"p":0.553,"t":6},{"l":25.25,"p":0.325,"t":0},{"l":25.25,"p":0,"t":0,"u":28.04},{"l":25.25,"p":0,"t":360,"u":38.04},
{"l":25.75,"p":1.341,"t":360},{"l":25.75,"p":1.332,"t":125},{"l":25.75,"p":1.3,"t":84},{"l":25.75,"p":1.207,"t":53},{"l":25.75,"p":1.087,"t":36},{"l":25.75,"p":0.963,"t":26},{"l":25.75,"p":0.82,"t":18},{"l":25.75,"p":0.679,"t":12},{"l":25.75,"p":0.499,"t":6},{"l":25.75,"p":0.271,"t":0},{"l":25.75,"p":0,"t":0,"u":28.04},{"l":25.75,"p":0,"t":360,"u":38.04},
{"l":26.25,"p":0.218,"t":0},{"l":26.25,"p":0.446,"t":6},{"l":26.25,"p":0.626,"t":12},{"l":26.25,"p":0.767,"t":18},{"l":26.25,"p":0.91,"t":26},{"l":26.25,"p":1.034,"t":36},{"l":26.25,"p":1.154,"t":53},{"l":26.25,"p":1.247,"t":84},{"l":26.25,"p":1.279,"t":125},{"l":26.25,"p":1.288,"t":360},{"l":26.25,"p":0,"t":360,"u":38.04},{"l":26.25,"p":0,"t":125,"u":37.9},{"l":26.25,"p":0,"t":84,"u":37.5},{"l":26.25,"p":0,"t":66,"u":36.9},{"l":26.25,"p":0,"t":53,"u":36.2},{"l":26.25,"p":0,"t":44,"u":35.7},{"l":26.25,"p":0,"t":36,"u":35.1},{"l":26.25,"p":0,"t":31,"u":34.65},{"l":26.25,"p":0,"t":26,"u":34.1},{"l":26.25,"p":0,"t":22,"u":33.5},{"l":26.25,"p":0,"t":18,"u":32.8},{"l":26.25,"p":0,"t":15,"u":32.3},{"l":26.25,"p":0,"t":12,"u":31.7},{"l":26.25,"p":0,"t":9,"u":31},{"l":26.25,"p":0,"t":6,"u":30.2},{"l":26.25,"p":0,"t":3,"u":29.2},{"l":26.25,"p":0,"t":0,"u":28.04},
{"l":32.25,"p":0,"t":13.5},{"l":32.25,"p":0.125,"t":18},{"l":32.25,"p":0.268,"t":26},{"l":32.25,"p":0.392,"t":36},{"l":32.25,"p":0.512,"t":53},{"l":32.25,"p":0.605,"t":84},{"l":32.25,"p":0.637,"t":125},{"l":32.25,"p":0.646,"t":360},{"l":32.25,"p":0,"t":360,"u":38.04},{"l":32.25,"p":0,"t":16.2,"u":32.5},
{"l":32.75,"p":0,"t":16.2},{"l":32.75,"p":0.071,"t":18},{"l":32.75,"p":0.214,"t":26},{"l":32.75,"p":0.338,"t":36},{"l":32.75,"p":0.458,"t":53},{"l":32.75,"p":0.551,"t":84},{"l":32.75,"p":0.583,"t":125},{"l":32.75,"p":0.592,"t":360},{"l":32.75,"p":0,"t":360,"u":38.04},{"l":32.75,"p":0,"t":19.1,"u":33},
{"l":33.25,"p":0,"t":19.1},{"l":33.25,"p":0.161,"t":26},{"l":33.25,"p":0.285,"t":36},{"l":33.25,"p":0.405,"t":53},{"l":33.25,"p":0.498,"t":84},{"l":33.25,"p":0.53,"t":125},{"l":33.25,"p":0.539,"t":360},{"l":33.25,"p":0,"t":360,"u":38.04},{"l":33.25,"p":0,"t":22,"u":33.5},
{"l":33.75,"p":0,"t":22},{"l":33.75,"p":0.107,"t":26},{"l":33.75,"p":0.231,"t":36},{"l":33.75,"p":0.351,"t":53},{"l":33.75,"p":0.444,"t":84},{"l":33.75,"p":0.476,"t":125},{"l":33.75,"p":0.485,"t":360},{"l":33.75,"p":0,"t":360,"u":38.04},{"l":33.75,"p":0,"t":25.3,"u":34},
{"l":34.25,"p":0,"t":25.3},{"l":34.25,"p":0.054,"t":26},{"l":34.25,"p":0.178,"t":36},{"l":34.25,"p":0.298,"t":53},{"l":34.25,"p":0.391,"t":84},{"l":34.25,"p":0.423,"t":125},{"l":34.25,"p":0.432,"t":360},{"l":34.25,"p":0,"t":360,"u":38.04},{"l":34.25,"p":0,"t":29.6,"u":34.5},
{"l":34.75,"p":0,"t":29.6},{"l":34.75,"p":0.124,"t":36},{"l":34.75,"p":0.244,"t":53},{"l":34.75,"p":0.337,"t":84},{"l":34.75,"p":0.369,"t":125},{"l":34.75,"p":0.378,"t":360},{"l":34.75,"p":0,"t":360,"u":38.04},{"l":34.75,"p":0,"t":34.9,"u":35},
{"l":35.25,"p":0,"t":34.9},{"l":35.25,"p":0.071,"t":36},{"l":35.25,"p":0.191,"t":53},{"l":35.25,"p":0.284,"t":84},{"l":35.25,"p":0.316,"t":125},{"l":35.25,"p":0.325,"t":360},{"l":35.25,"p":0,"t":360,"u":38.04},{"l":35.25,"p":0,"t":41.3,"u":35.5},
{"l":35.75,"p":0,"t":41.3},{"l":35.75,"p":0.137,"t":53},{"l":35.75,"p":0.23,"t":84},{"l":35.75,"p":0.262,"t":125},{"l":35.75,"p":0.271,"t":360},{"l":35.75,"p":0,"t":360,"u":38.04},{"l":35.75,"p":0,"t":49.4,"u":36},
{"l":36.25,"p":0,"t":49.4},{"l":36.25,"p":0.084,"t":53},{"l":36.25,"p":0.177,"t":84},{"l":36.25,"p":0.209,"t":125},{"l":36.25,"p":0.218,"t":360},{"l":36.25,"p":0,"t":360,"u":38.04},{"l":36.25,"p":0,"t":58.6,"u":36.5},
{"l":36.75,"p":0,"t":58.6},{"l":36.75,"p":0.123,"t":84},{"l":36.75,"p":0.155,"t":125},{"l":36.75,"p":0.164,"t":360},{"l":36.75,"p":0,"t":360,"u":38.04},{"l":36.75,"p":0,"t":69,"u":37},
{"l":37.25,"p":0,"t":69},{"l":37.25,"p":0.07,"t":84},{"l":37.25,"p":0.102,"t":125},{"l":37.25,"p":0.111,"t":360},{"l":37.25,"p":0,"t":360,"u":38.04},{"l":37.25,"p":0,"t":84,"u":37.5},
{"l":37.75,"p":0,"t":84},{"l":37.75,"p":0.048,"t":125},{"l":37.75,"p":0.057,"t":360},{"l":37.75,"p":0,"t":360,"u":38.04},{"l":37.75,"p":0,"t":125,"u":37.9}
]},"transform":[
{"calculate":"(datum.p+0.28)/3.28","as":"a"},{"calculate":"(datum.t+8)/408","as":"b"},{"calculate":"(isValid(datum.u)?datum.u:datum.l-0.25)/40","as":"c"},
{"calculate":"1-0.13075*datum.a+0.16451*datum.b-0.0582*datum.c","as":"w"},
{"calculate":"(312+1184.8*datum.a+1435.9*datum.b-86.9*datum.c)/datum.w","as":"X"},{"calculate":"(2038+181.2*datum.a-189.9*datum.b-1815.7*datum.c)/datum.w","as":"Y"},
{"calculate":"(datum.p2+0.28)/3.28","as":"a2"},{"calculate":"(datum.t2+8)/408","as":"b2"},{"calculate":"datum.u2/40","as":"c2"},
{"calculate":"1-0.13075*datum.a2+0.16451*datum.b2-0.0582*datum.c2","as":"w2"},
{"calculate":"(312+1184.8*datum.a2+1435.9*datum.b2-86.9*datum.c2)/datum.w2","as":"X2"},{"calculate":"(2038+181.2*datum.a2-189.9*datum.b2-1815.7*datum.c2)/datum.w2","as":"Y2"}
],
"encoding":{"x":{"field":"X","type":"quantitative","scale":{"domain":[0,3280],"range":[0,3280],"nice":false,"zero":false},"axis":null},"y":{"field":"Y","type":"quantitative","scale":{"domain":[0,2667],"range":[0,2667],"nice":false,"zero":false},"axis":null}},
"layer":[
{"transform":[{"filter":"datum.g==='g'"}],"mark":{"type":"rule","color":"#c8c8c8","strokeWidth":2,"strokeDash":[22,12]},"encoding":{"x2":{"field":"X2"},"y2":{"field":"Y2"}}},
{"transform":[{"filter":"datum.g==='f'"}],"mark":{"type":"rule","color":"black","strokeWidth":3},"encoding":{"x2":{"field":"X2"},"y2":{"field":"Y2"}}},
{"transform":[{"filter":"isValid(datum.l)"},{"window":[{"op":"row_number","as":"i"}]}],"mark":{"type":"line","interpolate":"linear-closed","strokeWidth":0},"encoding":{"detail":{"field":"l"},"order":{"field":"i","type":"quantitative"},"fill":{"field":"l","type":"quantitative","legend":null,"scale":{"interpolate":"rgb","domain":[-0.25,0.25,1.5,2.7,3.5,4.5,5.5,6.3,7.2,8.3,9.4,10.1,10.75,11.4,12.1,12.6,13.3,14.6,16,18,19.9,21.6,22.5,23.7,24.8,25.75,26.25,32,34.1,35.4,36.7,38,39.75],"range":["#000000","#6a0070","#7b0090","#8000c0","#7800ee","#3000ff","#0000ff","#0040ff","#0060ff","#0090ff","#00b8ff","#00e0ff","#00ffff","#00ffcc","#00ff90","#00ff60","#10ff00","#40ff00","#80ff00","#c0ff00","#ffff00","#ffc000","#ffa000","#ff7000","#ff5000","#ff2000","#ff0000","#ff0000","#c80000","#b00000","#900000","#780000","#580000"]}}}},
{"transform":[{"filter":"datum.g==='a'"}],"mark":{"type":"rule","color":"black","strokeWidth":9,"strokeCap":"square"},"encoding":{"x2":{"field":"X2"},"y2":{"field":"Y2"}}},
{"transform":[{"filter":"datum.g==='k'"}],"mark":{"type":"rule","color":"black","strokeWidth":6},"encoding":{"x2":{"field":"X2"},"y2":{"field":"Y2"}}},
{"transform":[{"filter":"datum.g==='ul'"}],"mark":{"type":"text","font":"Liberation Sans","fontWeight":"bold","fontSize":72,"align":"right","baseline":"middle","angle":-4,"dx":-34,"dy":10},"encoding":{"text":{"field":"s"}}},
{"transform":[{"filter":"datum.g==='pl'"}],"mark":{"type":"text","font":"Liberation Sans","fontWeight":"bold","fontSize":66,"align":"center","baseline":"middle","angle":27,"dx":-68,"dy":71},"encoding":{"text":{"field":"s"}}},
{"transform":[{"filter":"datum.g==='tl'"}],"mark":{"type":"text","font":"Liberation Sans","fontWeight":"bold","fontSize":68,"align":"center","baseline":"middle","angle":22,"dx":108,"dy":4},"encoding":{"text":{"field":"s"}}},
{"transform":[{"filter":"datum.g==='t1'"}],"mark":{"type":"text","font":"Liberation Sans","fontWeight":"bold","fontStyle":"italic","fontSize":74,"align":"center","baseline":"middle","angle":20},"encoding":{"text":{"field":"s"}}},
{"transform":[{"filter":"datum.g==='t2'"}],"mark":{"type":"text","font":"Liberation Sans","fontWeight":"bold","fontSize":40,"align":"center","baseline":"middle","angle":20},"encoding":{"text":{"field":"s"}}},
{"transform":[{"filter":"datum.g==='t3'"}],"mark":{"type":"text","font":"Liberation Sans","fontWeight":"bold","fontSize":64,"align":"center","baseline":"middle","angle":-26},"encoding":{"text":{"field":"s"}}},
{"transform":[{"filter":"datum.g==='y1'"}],"mark":{"type":"text","font":"Liberation Sans","fontWeight":"bold","fontSize":88,"align":"center","baseline":"middle","angle":-93},"encoding":{"text":{"field":"s"}}},
{"transform":[{"filter":"datum.g==='y2'"}],"mark":{"type":"text","font":"Liberation Serif","fontWeight":"bold","fontSize":84,"align":"center","baseline":"middle","angle":-93},"encoding":{"text":{"field":"s"}}},
{"transform":[{"filter":"datum.g==='y3'"}],"mark":{"type":"text","font":"Liberation Sans","fontWeight":"bold","fontSize":50,"align":"center","baseline":"middle","angle":-93},"encoding":{"text":{"field":"s"}}}
]},
{"data":{"values":[{"l":-0.25,"a":-0.5,"b":0},{"l":0.25,"a":0,"b":0.5},{"l":0.75,"a":0.5,"b":1},{"l":1.25,"a":1,"b":1.5},{"l":1.75,"a":1.5,"b":2},{"l":2.25,"a":2,"b":2.5},{"l":2.75,"a":2.5,"b":3},{"l":3.25,"a":3,"b":3.5},{"l":3.75,"a":3.5,"b":4},{"l":4.25,"a":4,"b":4.5},{"l":4.75,"a":4.5,"b":5},{"l":5.25,"a":5,"b":5.5},{"l":5.75,"a":5.5,"b":6},{"l":6.25,"a":6,"b":6.5},{"l":6.75,"a":6.5,"b":7},{"l":7.25,"a":7,"b":7.5},{"l":7.75,"a":7.5,"b":8},{"l":8.25,"a":8,"b":8.5},{"l":8.75,"a":8.5,"b":9},{"l":9.25,"a":9,"b":9.5},{"l":9.75,"a":9.5,"b":10},{"l":10.25,"a":10,"b":10.5},{"l":10.75,"a":10.5,"b":11},{"l":11.25,"a":11,"b":11.5},{"l":11.75,"a":11.5,"b":12},{"l":12.25,"a":12,"b":12.5},{"l":12.75,"a":12.5,"b":13},{"l":13.25,"a":13,"b":13.5},{"l":13.75,"a":13.5,"b":14},{"l":14.25,"a":14,"b":14.5},{"l":14.75,"a":14.5,"b":15},{"l":15.25,"a":15,"b":15.5},{"l":15.75,"a":15.5,"b":16},{"l":16.25,"a":16,"b":16.5},{"l":16.75,"a":16.5,"b":17},{"l":17.25,"a":17,"b":17.5},{"l":17.75,"a":17.5,"b":18},{"l":18.25,"a":18,"b":18.5},{"l":18.75,"a":18.5,"b":19},{"l":19.25,"a":19,"b":19.5},{"l":19.75,"a":19.5,"b":20},{"l":20.25,"a":20,"b":20.5},{"l":20.75,"a":20.5,"b":21},{"l":21.25,"a":21,"b":21.5},{"l":21.75,"a":21.5,"b":22},{"l":22.25,"a":22,"b":22.5},{"l":22.75,"a":22.5,"b":23},{"l":23.25,"a":23,"b":23.5},{"l":23.75,"a":23.5,"b":24},{"l":24.25,"a":24,"b":24.5},{"l":24.75,"a":24.5,"b":25},{"l":25.25,"a":25,"b":25.5},{"l":25.75,"a":25.5,"b":26},{"l":29,"a":26,"b":32},{"l":32.25,"a":32,"b":32.5},{"l":32.75,"a":32.5,"b":33},{"l":33.25,"a":33,"b":33.5},{"l":33.75,"a":33.5,"b":34},{"l":34.25,"a":34,"b":34.5},{"l":34.75,"a":34.5,"b":35},{"l":35.25,"a":35,"b":35.5},{"l":35.75,"a":35.5,"b":36},{"l":36.25,"a":36,"b":36.5},{"l":36.75,"a":36.5,"b":37},{"l":37.25,"a":37,"b":37.5},{"l":37.75,"a":37.5,"b":38},{"l":38.25,"a":38,"b":38.5},{"l":38.75,"a":38.5,"b":39},{"l":39.25,"a":39,"b":39.5},{"l":39.75,"a":39.5,"b":40}]},
"mark":{"type":"rect"},"encoding":{"x":{"datum":0,"type":"quantitative","scale":{"domain":[0,1],"range":[2973,3058]},"axis":null},"x2":{"datum":1},
"y":{"field":"a","type":"quantitative","scale":{"domain":[0,40],"range":[153,1822],"nice":false,"zero":false},"axis":{"orient":"right","offset":-195,"values":[0,5,10,15,20,25,30,35,40],"labelExpr":"datum.value<10?format(datum.value,'.3f'):format(datum.value,'.2f')","domain":false,"ticks":false,"grid":false,"title":null,"labelFont":"Liberation Sans","labelFontWeight":"bold","labelFontSize":64,"labelColor":"black","labelAlign":"left","labelBaseline":"middle","labelPadding":0,"labelOverlap":false,"labelBound":false,"labelFlush":false}},"y2":{"field":"b"},
"fill":{"field":"l","type":"quantitative","legend":null,"scale":{"interpolate":"rgb","domain":[-0.25,0.25,1.5,2.7,3.5,4.5,5.5,6.3,7.2,8.3,9.4,10.1,10.75,11.4,12.1,12.6,13.3,14.6,16,18,19.9,21.6,22.5,23.7,24.8,25.75,26.25,32,34.1,35.4,36.7,38,39.75],"range":["#000000","#6a0070","#7b0090","#8000c0","#7800ee","#3000ff","#0000ff","#0040ff","#0060ff","#0090ff","#00b8ff","#00e0ff","#00ffff","#00ffcc","#00ff90","#00ff60","#10ff00","#40ff00","#80ff00","#c0ff00","#ffff00","#ffc000","#ffa000","#ff7000","#ff5000","#ff2000","#ff0000","#ff0000","#c80000","#b00000","#900000","#780000","#580000"]}}}}
]}
